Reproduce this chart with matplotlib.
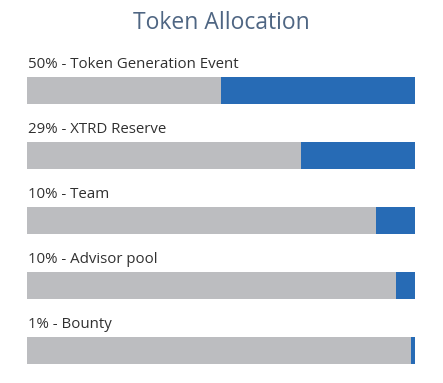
"""Token allocation as stacked progress bars."""

import matplotlib
matplotlib.use('Agg')
import matplotlib.pyplot as plt

# data
labels = ['50% - Token Generation Event', '29% - XTRD Reserve', '10% - Team',
          '10% - Advisor pool', '1% - Bounty']
filled = [50, 29.5, 10, 5, 1]   # blue part as drawn, percent of the bar
total = 100

grey = '#bcbdc0'
blue = '#276bb5'

plt.rcParams['font.family'] = ['Open Sans', 'DejaVu Sans']

fig = plt.figure(figsize=(4.43, 3.83), dpi=100)
W, H = 443, 383
# axes from the top of the first bar to the bottom of the last
ax = fig.add_axes([27 / W, (H - 364) / H, 388 / W, (364 - 77) / H])

h = 27 / 65
n = len(labels)
ys = range(n)
rest = [total - f for f in filled]
ax.barh(ys, rest, height=h, color=grey, left=0)
ax.barh(ys, filled, height=h, color=blue, left=rest)

for i, lab in enumerate(labels):
    ax.annotate(lab, xy=(0, i - h / 2), xytext=(1, 3.5), textcoords='offset points',
                ha='left', va='bottom', fontsize=10.8, color='#303030')

ax.set_xlim(0, total)
ax.set_ylim(n - 1 + h / 2, -h / 2)
ax.axis('off')

fig.text(0.5, 1 - 23 / H, 'Token Allocation', ha='center', va='center',
         fontsize=16.5, color='#4f6683')

fig.savefig('out.png', dpi=100)
